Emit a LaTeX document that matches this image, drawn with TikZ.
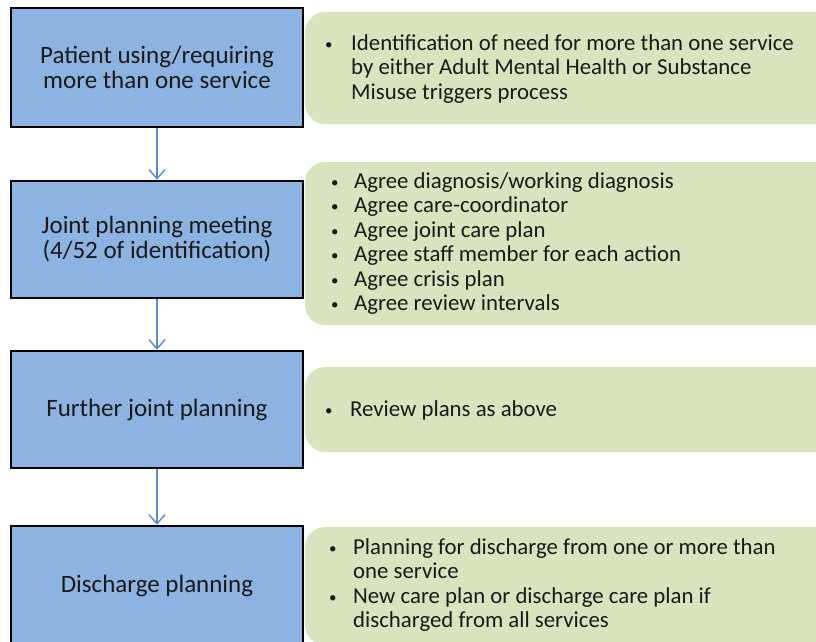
\documentclass[tikz,border=0pt]{standalone}
\usepackage{fontspec}
\setmainfont{Carlito}
\usetikzlibrary{arrows.meta}
\definecolor{blueF}{HTML}{8DB3E2}
\definecolor{greenF}{HTML}{D7E4BD}
\definecolor{arrowC}{HTML}{5B8BC9}
\definecolor{txt}{HTML}{1A1A1A}
\newcommand{\fs}{\fontsize{22.8}{24.5}\selectfont}
\newcommand{\fsb}{\fontsize{25}{25}\selectfont}
\newcommand{\bitem}[2][27pt]{\makebox[#1][l]{\hspace{1pt}\raisebox{1pt}{\fontsize{15}{15}\selectfont •}}#2}
\begin{document}
\begin{tikzpicture}[x=1pt,y=-1pt,
  stepbox/.style={draw=black, line width=2.6pt, fill=blueF, minimum width=292pt,
    align=center, font=\fsb, text=txt, inner sep=0pt},
  notebox/.style={fill=greenF, rounded corners=20pt, minimum width=540pt, inner sep=0pt},
  notetext/.style={anchor=west, align=left, font=\fs, text=txt, inner sep=0pt},
  conn/.style={draw=arrowC, line width=1.4pt, -{Straight Barb[length=9pt,width=16pt,line width=1.4pt]}}]
\useasboundingbox (0,0) rectangle (816,642);
\clip (0,0) rectangle (816,642);
\fill[white] (0,0) rectangle (816,642);

% green panels
\node[notebox, minimum height=112pt] (g1) at (575,68) {};
\node[notebox, minimum height=163pt] (g2) at (575,243.5) {};
\node[notebox, minimum height=85pt] (g3) at (575,409.5) {};
\node[notebox, minimum height=118pt] (g4) at (575,586) {};

% blue step boxes
\node[stepbox, minimum height=119pt] (b1) at (157,67.5) {Patient using/requiring\\more than one service};
\node[stepbox, minimum height=117pt] (b2) at (157,239.5) {Joint planning meeting\\(4/52 of identification)};
\node[stepbox, minimum height=117pt] (b3) at (157,409.5) {Further joint planning};
\node[stepbox, minimum height=120pt] (b4) at (157,586) {Discharge planning};

% connectors
\draw[conn] (b1) -- (b2);
\draw[conn] (b2) -- (b3);
\draw[conn] (b3) -- (b4);

% texts
\node[notetext] (t1) at (324,69) {\bitem{Identification of need for more than one service}\\
  \hspace{27pt}by either Adult Mental Health or Substance\\
  \hspace{27pt}Misuse triggers process};
\node[notetext] (t2) at (330,243.5) {\bitem[24pt]{Agree diagnosis/working diagnosis}\\
  \bitem[24pt]{Agree care-coordinator}\\
  \bitem[24pt]{Agree joint care plan}\\
  \bitem[24pt]{Agree staff member for each action}\\
  \bitem[24pt]{Agree crisis plan}\\
  \bitem[24pt]{Agree review intervals}};
\node[notetext] (t3) at (324,410) {\bitem[26pt]{Review plans as above}};
\node[notetext] (t4) at (328,585) {\bitem[25pt]{Planning for discharge from one or more than}\\
  \hspace{25pt}one service\\
  \bitem[25pt]{New care plan or discharge care plan if}\\
  \hspace{25pt}discharged from all services};
\end{tikzpicture}
\end{document}
